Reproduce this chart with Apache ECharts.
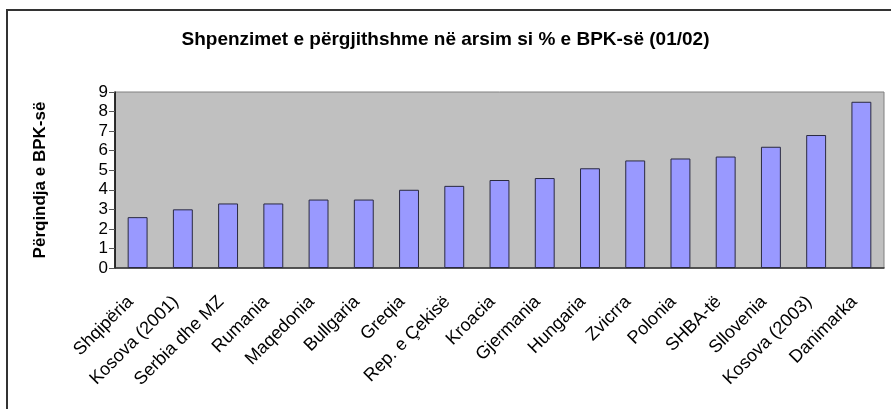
<!DOCTYPE html>
<html>
<head>
<meta charset="utf-8">
<script src="https://cdn.jsdelivr.net/npm/echarts@6/dist/echarts.min.js"></script>
<style>
  html, body { margin: 0; padding: 0; background: #fff; }
  #main { width: 891px; height: 409px; }
</style>
</head>
<body>
<div id="main"></div>
<script>
var countries = ['Shqipëria', 'Kosova (2001)', 'Serbia dhe MZ', 'Rumania', 'Maqedonia', 'Bullgaria',
    'Greqia', 'Rep. e Çekisë', 'Kroacia', 'Gjermania', 'Hungaria', 'Zvicrra', 'Polonia',
    'SHBA-të', 'Sllovenia', 'Kosova (2003)', 'Danimarka'];
var shares = [2.6, 3.0, 3.3, 3.3, 3.5, 3.5, 4.0, 4.2, 4.5, 4.6, 5.1, 5.5, 5.6, 5.7, 6.2, 6.8, 8.5];

var myChart = echarts.init(document.getElementById('main'));
var font = 'Liberation Sans, Arial, sans-serif';

var option = {
    backgroundColor: '#fff',
    animation: false,
    title: {
        text: 'Shpenzimet e përgjithshme në arsim si % e BPK-së (01/02)',
        left: 'center',
        top: 25,
        textStyle: { fontFamily: font, fontSize: 19, fontWeight: 'bold', color: '#000' }
    },
    graphic: [{
        type: 'rect',
        shape: { x: 7, y: 10, width: 900, height: 420 },
        style: { fill: 'none', stroke: '#333', lineWidth: 2 },
        silent: true
    }],
    grid: {
        left: 115, right: 7, top: 92, bottom: 141,
        show: true,
        backgroundColor: '#c0c0c0',
        borderColor: '#808080',
        borderWidth: 1
    },
    xAxis: {
        type: 'category',
        data: countries,
        axisLine: { lineStyle: { color: '#333', width: 1.5 } },
        axisTick: { alignWithLabel: false, length: 5, lineStyle: { color: '#000' } },
        axisLabel: {
            rotate: 45, interval: 0, margin: 24,
            padding: [0, 10, 0, 0],
            fontFamily: font, fontSize: 18, color: '#000'
        }
    },
    yAxis: {
        type: 'value',
        min: 0, max: 9, interval: 1,
        name: 'Përqindja e BPK-së',
        nameLocation: 'middle',
        nameGap: 66,
        nameTextStyle: { fontFamily: font, fontSize: 17, fontWeight: 'bold', color: '#000' },
        axisLine: { show: true, lineStyle: { color: '#000', width: 1.5 } },
        axisTick: { show: true, length: 6, lineStyle: { color: '#555' } },
        axisLabel: { fontFamily: font, fontSize: 17, color: '#000', margin: 7 },
        splitLine: { show: false }
    },
    series: [{
        type: 'bar',
        data: shares,
        barWidth: '44%',
        itemStyle: {
            color: '#9999ff',
            borderColor: '#2a2a40',
            borderWidth: 1
        }
    }]
};

myChart.setOption(option);
</script>
</body>
</html>
